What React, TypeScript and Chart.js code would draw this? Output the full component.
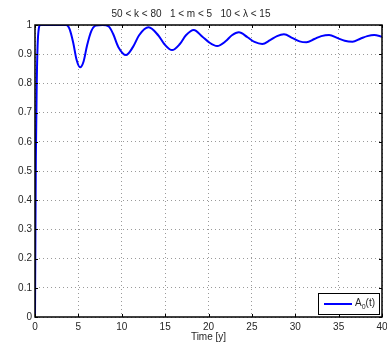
import React, { useEffect, useRef } from 'react';
import { Chart, registerables } from 'chart.js';

Chart.register(...registerables);

const timeYears = [
  0, 0.05, 0.1, 0.2, 0.3, 0.45, 0.6, 1, 2, 3, 3.6, 4.0, 4.4, 4.8, 5.2, 5.6, 6.0, 6.5, 7.0, 7.8,
  8.5, 9.0, 9.6, 10.5, 11.3, 12.0, 13.1, 14.2, 14.9, 15.8, 16.7, 17.4, 18.3, 19.3, 20.0, 21.0,
  22.0, 22.7, 23.5, 24.5, 25.3, 26.2, 27.1, 27.9, 28.7, 29.7, 30.5, 31.3, 32.2, 33.0, 33.9,
  34.9, 35.7, 36.6, 37.5, 38.3, 39.1, 40,
];
const amplitude = [
  0, 0.3, 0.55, 0.8, 0.93, 0.99, 1, 1, 1, 1, 1, 0.985, 0.94, 0.88, 0.855, 0.875, 0.93, 0.98, 0.998, 1,
  0.995, 0.97, 0.925, 0.897, 0.925, 0.965, 0.992, 0.965, 0.935, 0.914, 0.935, 0.965, 0.983, 0.96, 0.942, 0.928,
  0.945, 0.965, 0.975, 0.958, 0.942, 0.935, 0.948, 0.962, 0.968, 0.955, 0.944, 0.941, 0.952, 0.962, 0.966,
  0.955, 0.946, 0.943, 0.953, 0.962, 0.966, 0.96,
];
const xTicks = [0, 5, 10, 15, 20, 25, 30, 35, 40];
const yTicks = [0, 0.1, 0.2, 0.3, 0.4, 0.5, 0.6, 0.7, 0.8, 0.9, 1];
const titleText = '50 < k < 80   1 < m < 5   10 < λ < 15';
const xLabel = 'Time [y]';
const seriesBase = 'A';
const seriesSub = '0';
const seriesTail = '(t)';

const FONT = '"Liberation Sans", Arial, Helvetica, sans-serif';
const TEXT = '#262626';
const LINE = '#0000ff';
const GRID = '#9a9a9a';

const fmt = (v: number) => (Math.round(v * 10) / 10).toString();

const boxPlugin = {
  id: 'matlabBox',
  afterDraw(chart: any) {
    const { ctx, chartArea: a, scales } = chart;
    const xs = scales.x;
    const ys = scales.y;
    ctx.save();
    ctx.strokeStyle = '#000';
    ctx.lineWidth = 1;
    const tl = 3;
    ctx.beginPath();
    xTicks.forEach((t) => {
      const px = Math.round(xs.getPixelForValue(t)) + 0.5;
      ctx.moveTo(px, a.bottom);
      ctx.lineTo(px, a.bottom - tl);
      ctx.moveTo(px, a.top);
      ctx.lineTo(px, a.top + tl);
    });
    yTicks.forEach((t) => {
      const py = Math.round(ys.getPixelForValue(t)) + 0.5;
      ctx.moveTo(a.left, py);
      ctx.lineTo(a.left + tl, py);
      ctx.moveTo(a.right, py);
      ctx.lineTo(a.right - tl, py);
    });
    ctx.stroke();
    ctx.lineWidth = 1.5;
    ctx.strokeRect(a.left, a.top, a.right - a.left, a.bottom - a.top);

    // legend
    const lw = 61;
    const lh = 21;
    const lx = a.right - 3 - lw;
    const ly = a.bottom - 3 - lh;
    ctx.fillStyle = '#fff';
    ctx.fillRect(lx, ly, lw, lh);
    ctx.lineWidth = 1;
    ctx.strokeStyle = '#000';
    ctx.strokeRect(lx + 0.5, ly + 0.5, lw, lh);
    const cy = ly + lh / 2 + 0.5;
    ctx.strokeStyle = LINE;
    ctx.lineWidth = 2;
    ctx.beginPath();
    ctx.moveTo(lx + 6, cy);
    ctx.lineTo(lx + 34, cy);
    ctx.stroke();
    ctx.fillStyle = TEXT;
    ctx.textBaseline = 'middle';
    ctx.textAlign = 'left';
    ctx.font = `10px ${FONT}`;
    let tx = lx + 37;
    ctx.fillText(seriesBase, tx, cy - 1);
    tx += ctx.measureText(seriesBase).width;
    ctx.font = `7px ${FONT}`;
    ctx.fillText(seriesSub, tx, cy + 3);
    tx += ctx.measureText(seriesSub).width;
    ctx.font = `10px ${FONT}`;
    ctx.fillText(seriesTail, tx, cy - 1);
    ctx.restore();
  },
};

export default function App() {
  const ref = useRef<HTMLCanvasElement | null>(null);
  useEffect(() => {
    if (!ref.current) return;
    const data = timeYears.map((t, i) => ({ x: t, y: amplitude[i] }));
    const chart = new Chart(ref.current, {
      type: 'line',
      data: {
        datasets: [
          {
            label: seriesBase + seriesSub + seriesTail,
            data,
            borderColor: LINE,
            borderWidth: 2,
            pointRadius: 0,
            cubicInterpolationMode: 'monotone',
            fill: false,
          },
        ],
      },
      options: {
        responsive: false,
        animation: false,
        layout: { padding: { left: 0, right: 5, top: 0, bottom: 0 } },
        plugins: {
          legend: { display: false },
          tooltip: { enabled: false },
          title: {
            display: true,
            text: titleText,
            color: TEXT,
            font: { family: FONT, size: 10, weight: 'normal' },
            padding: { top: 8, bottom: 5 },
          },
        },
        scales: {
          x: {
            type: 'linear',
            min: 0,
            max: 40,
            afterBuildTicks: (s: any) => {
              s.ticks = xTicks.map((v) => ({ value: v }));
            },
            afterFit: (s: any) => {
              s.height = 26;
              s.paddingRight = 0;
              s.paddingLeft = 0;
            },
            ticks: {
              color: TEXT,
              font: { family: FONT, size: 10 },
              padding: 4,
              maxRotation: 0,
              callback: (v: any) => String(v),
            },
            grid: { color: GRID, lineWidth: 1, drawTicks: false },
            border: { display: false, dash: [1, 3] },
            title: {
              display: true,
              text: xLabel,
              color: TEXT,
              font: { family: FONT, size: 10 },
              padding: { top: 0, bottom: 0 },
            },
          },
          y: {
            type: 'linear',
            min: 0,
            max: 1,
            afterBuildTicks: (s: any) => {
              s.ticks = yTicks.map((v) => ({ value: v }));
            },
            afterFit: (s: any) => {
              s.width = 35;
              s.paddingTop = 0;
              s.paddingBottom = 0;
            },
            ticks: {
              color: TEXT,
              font: { family: FONT, size: 10 },
              padding: 3,
              callback: (v: any) => fmt(Number(v)),
            },
            grid: { color: GRID, lineWidth: 1, drawTicks: false },
            border: { display: false, dash: [1, 3] },
          },
        },
      },
      plugins: [boxPlugin],
    } as any);
    return () => chart.destroy();
  }, []);
  return (
    <div style={{ position: 'absolute', left: 0, top: 0, width: 387, height: 343, background: '#fff' }}>
      <canvas ref={ref} width={387} height={343} style={{ display: 'block', width: 387, height: 343 }} />
    </div>
  );
}
